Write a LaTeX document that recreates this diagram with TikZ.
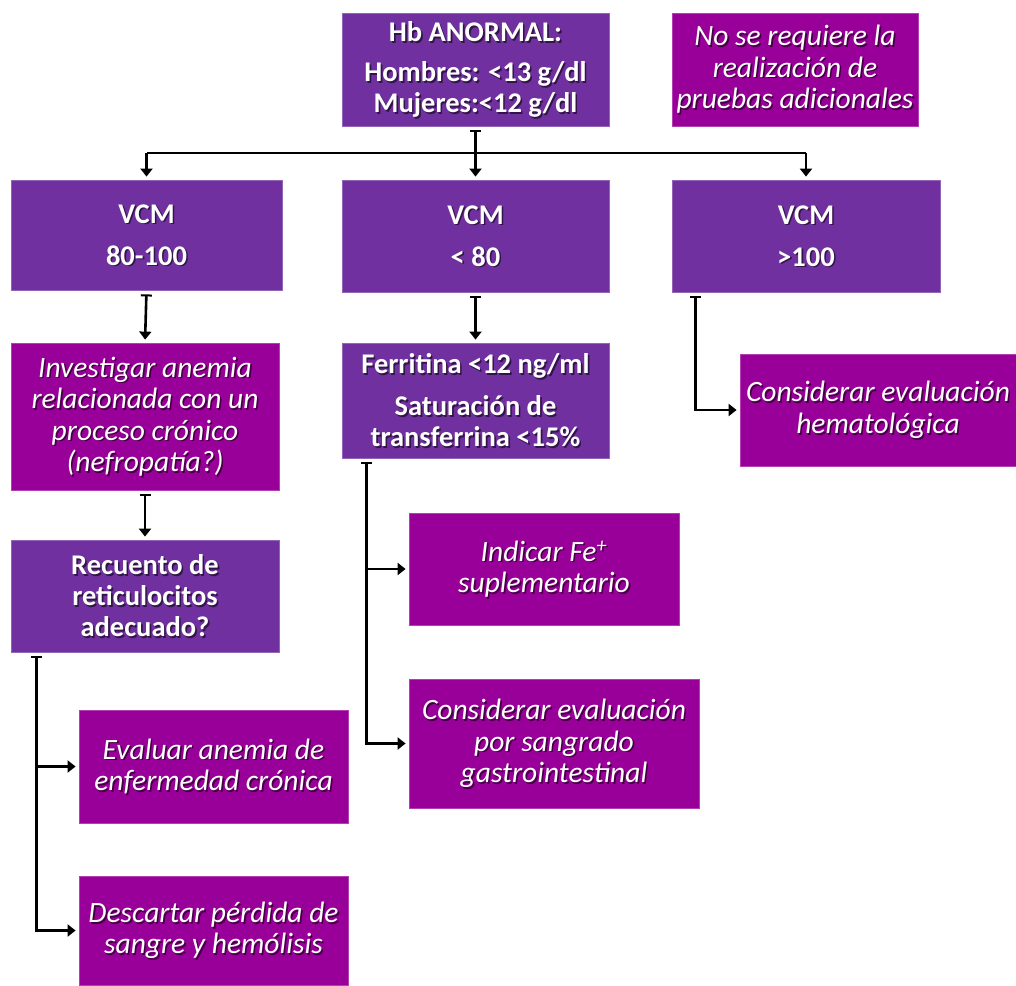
\documentclass[tikz,border=0pt]{standalone}
\usepackage{fontspec}
\setmainfont{Carlito}
\usetikzlibrary{arrows.meta,calc}
\definecolor{vio}{HTML}{7030A0}
\definecolor{mag}{HTML}{990099}
\newcommand\myB{\fontsize{28.5}{31}\selectfont\bfseries}
\newcommand\myI{\fontsize{29.5}{31.5}\selectfont\itshape}
\tikzset{
  box/.style={draw=#1!75!white, line width=0.8pt, fill=#1, inner sep=0pt},
  txt/.style={align=center, inner sep=0pt},
  wire/.style={line width=2.6pt, draw=black},
  arr/.style={wire, arrows={Bar[width=11pt,line width=2pt]-Triangle[length=8pt,width=12pt]}, shorten <=4pt, shorten >=3pt},
  dn/.style={wire, arrows={-Triangle[length=8pt,width=12pt]}, shorten >=3pt},
}
\newcommand\mybox[7]{%
  \node[box=#2, minimum width=#4, minimum height=#5] (#1) at (#3) {};
  \node[txt, font=#6, text=black, opacity=0.55] at ($(#1.center)+(1.6,1.6)$) {#7};
  \node[txt, font=#6, text=white] at (#1.center) {#7};
}
\begin{document}
\begin{tikzpicture}[x=1pt,y=-1pt]
\useasboundingbox[fill=white] (0,0) rectangle (1016,985);
\mybox{hb}{vio}{475.5,69.5}{267pt}{113pt}{\myB}{Hb ANORMAL:\\[9pt]Hombres: <13 g/dl\\Mujeres:<12 g/dl}
\mybox{nosr}{mag}{795,69.5}{246pt}{113pt}{\myI}{No se requiere la\\realización de\\pruebas adicionales}
\mybox{v1}{vio}{146.5,235}{271pt}{110pt}{\myB}{VCM\\[11pt]80-100}
\mybox{v2}{vio}{475.5,236}{267pt}{112pt}{\myB}{VCM\\[11pt]< 80}
\mybox{v3}{vio}{806,236}{268pt}{112pt}{\myB}{VCM\\[11pt]>100}
\mybox{inv}{mag}{145,416.5}{268pt}{147pt}{\myI}{Investigar anemia\\relacionada con un\\proceso crónico\\(nefropatía?)}
\mybox{fer}{vio}{475.5,400.5}{267pt}{115pt}{\myB}{Ferritina <12 ng/ml\\[11pt]Saturación de\\transferrina <15\%}
\mybox{hem}{mag}{878,410}{276pt}{112pt}{\myI}{Considerar evaluación\\hematológica}
\mybox{rec}{vio}{145,596}{268pt}{112pt}{\myB}{Recuento de\\reticulocitos\\adecuado?}
\mybox{fe}{mag}{544,569}{270pt}{112pt}{\myI}{Indicar Fe\textsuperscript{+}\\suplementario}
\mybox{sang}{mag}{554,743.5}{290pt}{129pt}{\myI}{Considerar evaluación\\por sangrado\\gastrointestinal}
\mybox{eval}{mag}{213.5,766.5}{269pt}{113pt}{\myI}{Evaluar anemia de\\enfermedad crónica}
\mybox{desc}{mag}{213.5,930.5}{269pt}{109pt}{\myI}{Descartar pérdida de\\sangre y hemólisis}

% top distribution
\coordinate (tr) at (476,153);
\draw[arr] (hb.south) -- (v2.north);
\draw[wire] (v1.north |- tr) -- (v3.north |- tr);
\draw[dn] (v1.north |- tr) -- (v1.north);
\draw[dn] (v3.north |- tr) -- (v3.north);

% column connectors
\draw[arr] (v1.south) -- (inv.north);
\draw[arr] (inv.south) -- (rec.north);
\draw[arr] (v2.south) -- (fer.north);

\coordinate (s3) at ($(v3.south west)+(24,0)$);
\draw[arr] (s3) |- (hem.west);

\coordinate (sf) at ($(fer.south west)+(25,0)$);
\draw[arr] (sf) |- (fe.west);
\draw[arr] (sf) |- (sang.west);

\coordinate (sr) at ($(rec.south west)+(26,0)$);
\draw[arr] (sr) |- (eval.west);
\draw[arr] (sr) |- (desc.west);
\end{tikzpicture}
\end{document}
